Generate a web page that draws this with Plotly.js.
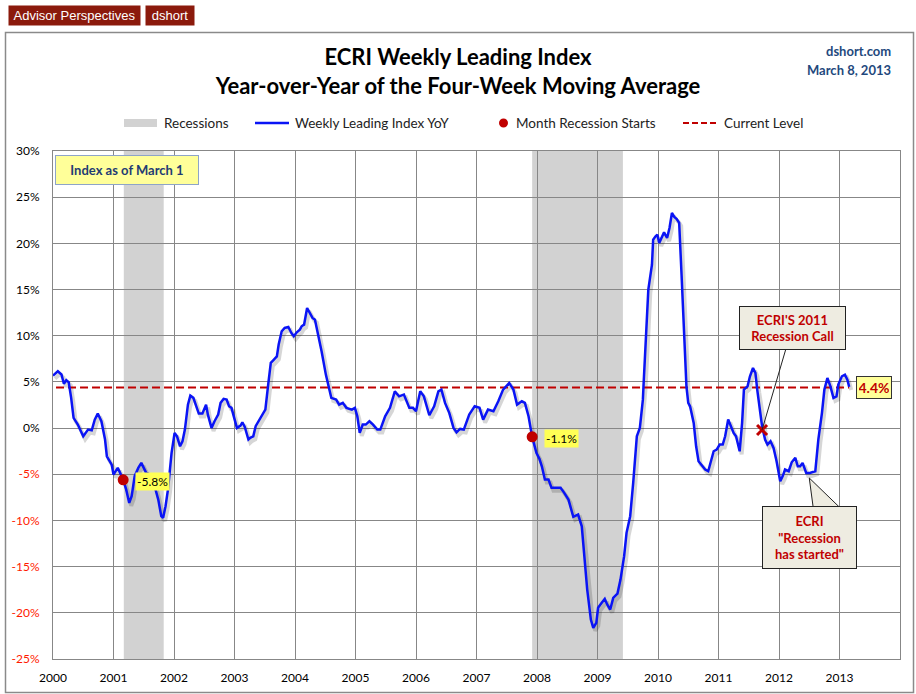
<!DOCTYPE html>
<html>
<head>
<meta charset="utf-8">
<script src="https://cdn.plot.ly/plotly-3.0.1.min.js"></script>
<style>html,body{margin:0;padding:0;background:#fff;}#chart{width:916px;height:694px;}</style>
</head>
<body>
<div id="chart"></div>
<script>
// ---- data (decimal years, % YoY) ----
const dates = [2000.00,2000.08,2000.14,2000.18,2000.22,2000.26,2000.30,2000.34,2000.41,2000.50,2000.58,2000.64,2000.69,2000.74,2000.80,2000.86,2000.89,2000.97,
2001.00,2001.07,2001.11,2001.16,2001.21,2001.26,2001.30,2001.35,2001.41,2001.46,2001.54,2001.60,2001.68,2001.74,2001.79,2001.82,2001.86,2001.90,2001.96,
2002.01,2002.05,2002.10,2002.14,2002.18,2002.23,2002.27,2002.32,2002.37,2002.41,2002.47,2002.53,2002.56,2002.62,2002.67,2002.73,2002.77,2002.82,2002.87,2002.91,2002.95,
2003.01,2003.04,2003.10,2003.13,2003.17,2003.23,2003.26,2003.31,2003.35,2003.41,2003.46,2003.51,2003.56,2003.60,2003.64,2003.70,2003.73,2003.78,2003.83,2003.89,2003.94,2003.98,
2004.03,2004.08,2004.11,2004.15,2004.20,2004.25,2004.29,2004.33,2004.38,2004.44,2004.51,2004.56,2004.60,2004.68,2004.73,2004.79,2004.85,2004.94,2004.99,
2005.03,2005.07,2005.12,2005.17,2005.23,2005.29,2005.36,2005.41,2005.49,2005.57,2005.65,2005.72,2005.80,2005.89,2005.95,
2006.00,2006.07,2006.13,2006.22,2006.30,2006.37,2006.42,2006.48,2006.55,2006.62,2006.67,2006.73,2006.79,2006.88,2006.97,
2007.05,2007.11,2007.19,2007.28,2007.36,2007.44,2007.54,2007.61,2007.67,2007.75,2007.80,2007.86,2007.92,2007.99,
2008.04,2008.08,2008.13,2008.19,2008.24,2008.31,2008.39,2008.45,2008.52,2008.60,2008.68,2008.74,2008.79,2008.83,2008.89,2008.93,2008.98,
2009.01,2009.07,2009.12,2009.16,2009.21,2009.26,2009.33,2009.38,2009.44,2009.48,2009.54,2009.59,2009.65,2009.70,2009.75,2009.76,2009.80,2009.84,2009.90,2009.92,2009.96,2009.99,
2010.02,2010.06,2010.10,2010.15,2010.19,2010.23,2010.27,2010.31,2010.35,2010.39,2010.43,2010.47,2010.50,2010.53,2010.59,2010.63,2010.67,2010.72,2010.78,2010.83,2010.87,2010.92,2010.97,
2011.02,2011.07,2011.11,2011.16,2011.20,2011.25,2011.29,2011.35,2011.39,2011.42,2011.48,2011.52,2011.57,2011.61,2011.64,2011.69,2011.72,2011.77,2011.81,2011.86,2011.91,2011.96,
2012.02,2012.06,2012.10,2012.16,2012.21,2012.27,2012.31,2012.35,2012.39,2012.45,2012.51,2012.60,2012.65,2012.71,2012.75,2012.80,2012.85,2012.90,2012.95,2012.98,
2013.04,2013.09,2013.13,2013.16];
const yoy = [5.68,6.15,5.8,4.8,5.2,4.96,3.27,1.1,0.38,-0.89,-0.16,-0.24,0.92,1.57,0.74,-1.24,-3.05,-3.95,
-5.03,-4.31,-4.85,-5.6,-6.66,-8.1,-7.38,-5.2,-4.31,-3.77,-4.85,-5.03,-6.3,-7.74,-9.54,-9.72,-8.46,-6.66,-2.68,
-0.52,-0.89,-1.97,-1.43,-0.16,2.54,3.52,3.27,2.19,1.57,1.57,2.54,1.46,0.02,0.74,1.46,2.73,3.16,3.08,2.36,2.19,
0.92,0.02,0.27,0.63,0.13,-1.24,-1.06,-0.89,0.2,0.85,1.46,2.0,4.89,7.06,7.34,7.77,9.04,10.48,10.84,10.95,10.3,9.94,
10.37,10.66,11.02,11.2,13.0,12.47,11.93,11.74,10.3,8.3,5.79,4.35,3.27,3.08,2.54,2.73,2.19,2.0,2.19,
1.28,-0.52,0.38,0.38,0.74,0.38,-0.16,-0.16,1.28,2.19,3.98,3.44,3.63,2.19,2.19,
1.82,3.98,3.44,1.39,2.36,3.98,4.17,2.73,1.65,0.02,-0.45,-0.09,-0.16,1.46,2.36,
2.19,0.92,2.0,1.82,2.9,4.17,4.89,4.17,2.54,2.9,2.73,1.28,-0.95,-2.68,
-3.33,-4.13,-5.57,-5.57,-6.47,-6.47,-6.47,-7.01,-7.74,-9.61,-9.36,-10.63,-14.23,-17.48,-20.73,-21.62,-21.08,
-19.46,-18.92,-18.49,-19.1,-19.64,-18.38,-17.91,-16.4,-13.87,-11.34,-9.54,-5.93,-0.89,0.02,3.08,4.52,9.58,14.99,17.69,20.4,20.76,20.94,
20.04,20.58,21.19,20.58,21.67,23.29,22.86,22.64,22.21,16.5,9.58,4.52,2.73,2.36,0.56,-1.97,-3.59,-3.95,-4.49,-4.67,-3.59,-2.51,-2.33,
-1.79,-1.79,-0.89,0.92,0.2,-0.52,-0.89,-2.51,0.56,4.17,4.52,5.61,6.51,5.97,4.17,2.0,0.2,-1.24,-1.79,-1.43,-2.15,-3.59,
-5.75,-5.22,-4.49,-4.67,-3.7,-3.23,-4.13,-4.13,-3.77,-4.85,-4.85,-4.67,-1.24,1.65,4.17,5.43,4.52,3.27,3.44,4.71,
5.61,5.79,5.25,4.46];

const recStart = [2001.17, 2007.92];
const recEnd   = [2001.83, 2009.42];
const startX   = [2001.16, 2007.92];
const startY   = [-5.6, -0.95];
const startLbl = ['-5.8%', '-1.1%'];
const currentLevel = 4.4;
const currentLbl = '4.4%';
const callX = [2011.72];
const callY = [-0.2];
const startedX = 2012.5;
const startedY = -5.4;
const xTickVals = [2000,2001,2002,2003,2004,2005,2006,2007,2008,2009,2010,2011,2012,2013];
const xTickLabels = ['2000','2001','2002','2003','2004','2005','2006','2007','2008','2009','2010','2011','2012','2013'];
const yTickVals = [-25,-20,-15,-10,-5,0,5,10,15,20,25,30];
const yTickLabels = ['-25%','-20%','-15%','-10%','-5%','0%','5%','10%','15%','20%','25%','30%'];

// ---- geometry helpers (pixel -> paper) ----
const L = 53, R = 900, T = 151, B = 659;
const px = x => (x - L) / (R - L);
const py = y => (B - y) / (B - T);
const XR = [2000, 2014], YR = [-25, 30];
const pxPerX = (R - L) / (XR[1] - XR[0]);
const pxPerY = (B - T) / (YR[1] - YR[0]);

const FONT = 'Lato, "Open Sans", sans-serif';
const BLUE = '#0A14F5';
const DRED = '#C00000';

const yTickText = yTickLabels.map((t, i) => yTickVals[i] < 0 ? '<span style="color:#FF1A00">' + t + '</span>' : t);

const traces = [
  { // shadow of main line
    x: dates, y: yoy, xaxis: 'x2', yaxis: 'y2', type: 'scatter', mode: 'lines',
    line: {color: 'rgba(0,0,0,0.16)', width: 4}, hoverinfo: 'skip', showlegend: false
  },
  {
    x: [dates[0] + 0.05, dates[dates.length - 1]], y: [currentLevel, currentLevel],
    xaxis: 'x3', yaxis: 'y3', type: 'scatter', mode: 'lines',
    line: {color: DRED, width: 2, dash: '8px,4px'}, showlegend: false, name: 'Current Level'
  },
  {
    x: dates, y: yoy, xaxis: 'x3', yaxis: 'y3', type: 'scatter', mode: 'lines',
    line: {color: BLUE, width: 2.5}, showlegend: false, name: 'Weekly Leading Index YoY'
  },
  {
    x: startX, y: startY, xaxis: 'x3', yaxis: 'y3', type: 'scatter', mode: 'markers',
    marker: {color: DRED, size: 11}, showlegend: false, name: 'Month Recession Starts'
  },
  {
    x: callX, y: callY, xaxis: 'x3', yaxis: 'y3', type: 'scatter', mode: 'markers',
    marker: {color: DRED, size: 10, symbol: 'x-thin', line: {color: DRED, width: 3}}, showlegend: false
  }
];

const shapes = [];
recStart.forEach((s, i) => shapes.push({
  type: 'rect', xref: 'x', yref: 'paper', x0: s, x1: recEnd[i], y0: 0, y1: 1,
  fillcolor: '#D2D2D2', line: {width: 0}, layer: 'below'
}));
// outer frame
shapes.push({type: 'rect', xref: 'paper', yref: 'paper', x0: px(5.5), x1: px(913.5), y0: py(692.5), y1: py(32.5),
  line: {color: '#8A8A8A', width: 1.5}, fillcolor: 'rgba(0,0,0,0)'});
// legend symbols
shapes.push({type: 'rect', xref: 'paper', yref: 'paper', x0: px(124), x1: px(157), y0: py(127), y1: py(119),
  fillcolor: '#D2D2D2', line: {width: 0}});
shapes.push({type: 'line', xref: 'paper', yref: 'paper', x0: px(255), x1: px(289), y0: py(123), y1: py(123),
  line: {color: BLUE, width: 2.5}});
shapes.push({type: 'circle', xref: 'paper', yref: 'paper', x0: px(499), x1: px(508), y0: py(127.5), y1: py(118.5),
  fillcolor: DRED, line: {width: 0}});
shapes.push({type: 'line', xref: 'paper', yref: 'paper', x0: px(683), x1: px(719), y0: py(123), y1: py(123),
  line: {color: DRED, width: 2, dash: '6px,3px'}});
// callout wedge for "Recession has started"
shapes.push({type: 'path', xref: 'x', yref: 'y', xsizemode: 'pixel', ysizemode: 'pixel',
  xanchor: startedX, yanchor: startedY, path: 'M0,0 L4,-30 L31,-30 Z',
  fillcolor: '#EEECE1', line: {color: '#222', width: 1}});

const legendFont = {family: FONT, size: 13.5, color: '#222'};
const annotations = [
  {xref: 'paper', yref: 'paper', x: px(8), y: py(15.5), xanchor: 'left', yanchor: 'middle', showarrow: false,
   text: 'Advisor Perspectives', bgcolor: '#8B1A0C', width: 127, height: 15, borderpad: 2,
   font: {family: 'Liberation Sans, Arial, sans-serif', size: 13, color: '#fff'}},
  {xref: 'paper', yref: 'paper', x: px(145), y: py(15.5), xanchor: 'left', yanchor: 'middle', showarrow: false,
   text: 'dshort', bgcolor: '#8B1A0C', width: 44, height: 15, borderpad: 2,
   font: {family: 'Liberation Sans, Arial, sans-serif', size: 13, color: '#fff'}},
  {xref: 'paper', yref: 'paper', x: px(893), y: py(51.5), xanchor: 'right', yanchor: 'middle', showarrow: false,
   text: 'dshort.com', font: {family: FONT, size: 13, color: '#1F497D', weight: 700}},
  {xref: 'paper', yref: 'paper', x: px(893), y: py(69.5), xanchor: 'right', yanchor: 'middle', showarrow: false,
   text: 'March 8, 2013', font: {family: FONT, size: 13, color: '#1F497D', weight: 700}},
  {xref: 'paper', yref: 'paper', x: px(162), y: py(123), xanchor: 'left', yanchor: 'middle', showarrow: false,
   text: 'Recessions', font: legendFont},
  {xref: 'paper', yref: 'paper', x: px(293), y: py(123), xanchor: 'left', yanchor: 'middle', showarrow: false,
   text: 'Weekly Leading Index YoY', font: legendFont},
  {xref: 'paper', yref: 'paper', x: px(514), y: py(123), xanchor: 'left', yanchor: 'middle', showarrow: false,
   text: 'Month Recession Starts', font: legendFont},
  {xref: 'paper', yref: 'paper', x: px(722), y: py(123), xanchor: 'left', yanchor: 'middle', showarrow: false,
   text: 'Current Level', font: legendFont},
  {xref: 'paper', yref: 'paper', x: px(127), y: py(170), xanchor: 'center', yanchor: 'middle', showarrow: false,
   text: 'Index as of March 1', bgcolor: '#FFFF99', bordercolor: '#8EA4C8', borderwidth: 1, borderpad: 2,
   width: 138, height: 24, font: {family: FONT, size: 13, color: '#1F3C73', weight: 700}},
  {xref: 'x', yref: 'y', x: dates[dates.length - 1], y: currentLevel, xanchor: 'left', yanchor: 'middle',
   xshift: 7, showarrow: false, text: currentLbl, bgcolor: '#FFFF99', bordercolor: '#333', borderwidth: 1,
   borderpad: 2, width: 30, height: 17, font: {family: FONT, size: 14, color: DRED, weight: 700}},
  {xref: 'x', yref: 'y', x: callX[0], y: callY[0], ax: 30, ay: -102, showarrow: true, arrowhead: 0,
   arrowwidth: 1, arrowcolor: '#222', text: "ECRI'S 2011<br>Recession Call", bgcolor: '#EEECE1',
   bordercolor: '#222', borderwidth: 1, borderpad: 2, width: 101, height: 38,
   font: {family: FONT, size: 13, color: DRED, weight: 700}},
  {xref: 'x', yref: 'y', x: startedX, y: startedY, xanchor: 'center', yanchor: 'top', yshift: -28, xshift: 0,
   showarrow: false, text: 'ECRI<br>"Recession<br>has started"', bgcolor: '#EEECE1',
   bordercolor: '#222', borderwidth: 1, borderpad: 2, width: 89, height: 57,
   font: {family: FONT, size: 13, color: DRED, weight: 700}}
];
startX.forEach((x, i) => annotations.push({
  xref: 'x', yref: 'y', x: x, y: startY[i], xanchor: 'left', yanchor: 'middle', xshift: 12, yshift: -2,
  showarrow: false, text: startLbl[i], bgcolor: '#FFFF55', borderpad: 1,
  font: {family: FONT, size: 12, color: '#000'}
}));

const axisCommon = {showgrid: true, gridcolor: '#878787', gridwidth: 1, zeroline: false,
  showline: true, linecolor: '#878787', linewidth: 1, mirror: true, ticks: '', fixedrange: true};

const layout = {
  width: 916, height: 694,
  margin: {l: L, r: 916 - R, t: T, b: 694 - B, pad: 0},
  paper_bgcolor: '#fff', plot_bgcolor: '#fff',
  showlegend: false,
  title: {text: 'ECRI Weekly Leading Index<br>Year-over-Year of the Four-Week Moving Average',
    xref: 'container', x: 0.5, xanchor: 'center', yref: 'container', y: 1 - 65 / 694, yanchor: 'top',
    font: {family: FONT, size: 22, color: '#000', weight: 700}},
  xaxis: Object.assign({}, axisCommon, {range: XR, tickvals: xTickVals, ticktext: xTickLabels,
    tickfont: {family: FONT, size: 12, color: '#000'}, ticklabelstandoff: 8}),
  yaxis: Object.assign({}, axisCommon, {range: YR, tickvals: yTickVals, ticktext: yTickText,
    tickfont: {family: FONT, size: 12, color: '#000'}, ticklabelstandoff: 10}),
  xaxis2: {overlaying: 'x', range: [XR[0] - 2 / pxPerX, XR[1] - 2 / pxPerX], visible: false, fixedrange: true},
  yaxis2: {overlaying: 'y', range: [YR[0] + 3 / pxPerY, YR[1] + 3 / pxPerY], visible: false, fixedrange: true},
  xaxis3: {overlaying: 'x', range: XR, visible: false, fixedrange: true},
  yaxis3: {overlaying: 'y', range: YR, visible: false, fixedrange: true},
  shapes: shapes,
  annotations: annotations
};

Plotly.newPlot('chart', traces, layout, {staticPlot: true, displayModeBar: false});
</script>
</body>
</html>
